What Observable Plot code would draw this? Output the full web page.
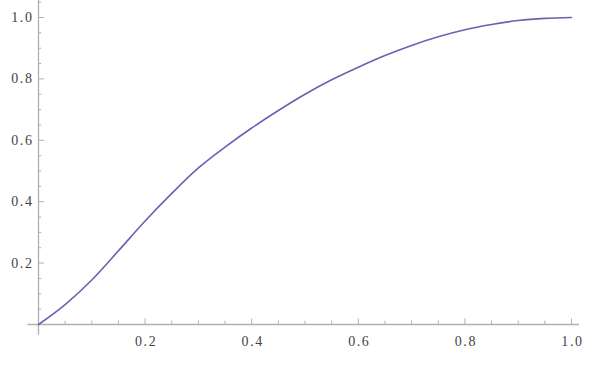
<!DOCTYPE html>
<html><head><meta charset="utf-8">
<script src="https://cdn.jsdelivr.net/npm/d3@7"></script>
<script src="https://cdn.jsdelivr.net/npm/@observablehq/plot@0.6"></script>
<style>body{margin:0;background:#fff}</style>
</head><body><div id="chart"></div>
<script>
const xValues = [0, 0.05, 0.1, 0.15, 0.2, 0.25, 0.3, 0.35, 0.4, 0.45, 0.5, 0.55, 0.6, 0.65, 0.7, 0.75, 0.8, 0.85, 0.9, 0.95, 1.0];
const yValues = [0, 0.065, 0.145, 0.24, 0.337, 0.427, 0.51, 0.578, 0.64, 0.697, 0.75, 0.797, 0.838, 0.876, 0.909, 0.937, 0.96, 0.977, 0.99, 0.997, 1.0];
const majorTicks = [0.2, 0.4, 0.6, 0.8, 1.0];
const minorTicksX = [0.05, 0.1, 0.15, 0.25, 0.3, 0.35, 0.45, 0.5, 0.55, 0.65, 0.7, 0.75, 0.85, 0.9, 0.95];
const minorTicksY = [0.05, 0.1, 0.15, 0.25, 0.3, 0.35, 0.45, 0.5, 0.55, 0.65, 0.7, 0.75, 0.85, 0.9, 0.95, 1.05];
const tickLabels = ["0.2", "0.4", "0.6", "0.8", "1.0"];

const data = xValues.map((x, i) => ({x, y: yValues[i]}));
const labels = majorTicks.map((v, i) => ({v, label: tickLabels[i]}));

const axisColor = "#b0b0b0";
const textColor = "#444";
const font = "'Liberation Serif', 'DejaVu Serif', serif";

const chart = Plot.plot({
  width: 592,
  height: 366,
  x: {domain: [0, 1], range: [38, 571], axis: null},
  y: {domain: [0, 1], range: [324, 17], axis: null},
  style: {fontFamily: font, fontSize: "14px", letterSpacing: "1.6px", background: "#fff"},
  marks: [
    Plot.ruleY([0], {x1: -0.02, x2: 1.015, stroke: axisColor, strokeWidth: 1.3}),
    Plot.ruleX([0], {y1: -0.035, y2: 1.06, stroke: axisColor, strokeWidth: 1.3}),
    Plot.ruleX(majorTicks, {y1: 0, y2: 0.018, stroke: axisColor}),
    Plot.ruleX(minorTicksX, {y1: 0, y2: 0.011, stroke: axisColor}),
    Plot.ruleY(majorTicks, {x1: 0, x2: 0.011, stroke: axisColor}),
    Plot.ruleY(minorTicksY, {x1: 0, x2: 0.006, stroke: axisColor}),
    Plot.text(labels, {x: "v", y: 0, text: "label", dy: 17, dx: 1, fill: textColor, fontFamily: font, fontSize: 14}),
    Plot.text(labels, {x: 0, y: "v", text: "label", dx: -5, textAnchor: "end", fill: textColor, fontFamily: font, fontSize: 14}),
    Plot.line(data, {x: "x", y: "y", curve: "monotone-x", stroke: "#6464b0", strokeWidth: 1.6})
  ]
});
document.getElementById("chart").append(chart);
</script>
</body></html>
